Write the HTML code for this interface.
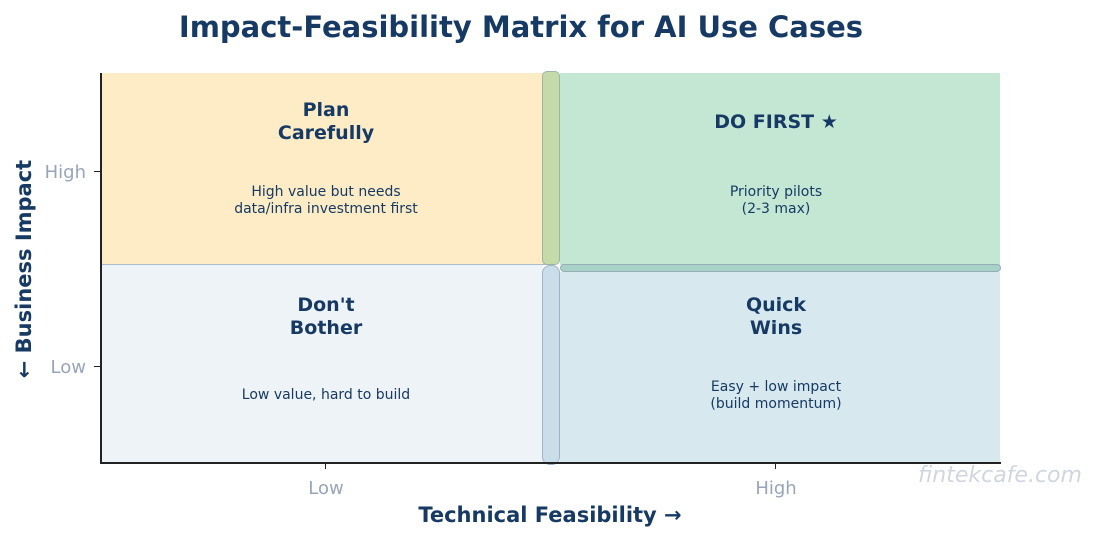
<!DOCTYPE html>
<html><head><style>
body{margin:0;width:1099px;height:540px;background:#fff;position:relative;overflow:hidden;font-family:"DejaVu Sans","Liberation Sans",sans-serif;color:#163a63}
div{position:absolute;box-sizing:border-box}
.t{text-align:center;font-weight:bold;font-size:19px;line-height:23px}
.s{text-align:center;font-size:14px;line-height:17px}
.g{color:#98a4b8;font-size:17px}
</style></head><body>
<div style="left:0;width:1042px;top:10px;text-align:center;font-size:29px;font-weight:bold">Impact-Feasibility Matrix for AI Use Cases</div>
<div style="left:101px;top:73px;width:450px;height:192px;background:#fdecc6;border-bottom:1px solid #a9bccd"></div>
<div style="left:560px;top:73px;width:440px;height:192px;background:#c4e7d4"></div>
<div style="left:560px;top:264px;width:441px;height:8px;background:#a8d2c7;border:1px solid #93aeb5;border-radius:4px"></div>
<div style="left:101px;top:265px;width:442px;height:198px;background:#eef3f8"></div>
<div style="left:560px;top:272px;width:440px;height:191px;background:#d7e8ef"></div>
<div style="left:542px;top:71px;width:18px;height:194px;background:#c4dba9;border:1px solid #9cb4a8;border-radius:5px"></div>
<div style="left:542px;top:265px;width:18px;height:200px;background:#c9dee8;border:1px solid #9fb3c8;border-radius:8px"></div>
<div style="left:100px;top:73px;width:2px;height:391px;background:#222"></div>
<div style="left:100px;top:462px;width:901px;height:2px;background:#222"></div>
<div style="left:94px;top:171px;width:6px;height:1px;background:#222"></div>
<div style="left:94px;top:366px;width:6px;height:1px;background:#222"></div>
<div style="left:325px;top:463px;width:1px;height:6px;background:#222"></div>
<div style="left:775px;top:463px;width:1px;height:6px;background:#222"></div>
<div class="g" style="left:26px;top:162px;width:60px;text-align:right;font-size:18px">High</div>
<div class="g" style="left:26px;top:357px;width:60px;text-align:right;font-size:18px">Low</div>
<div class="g" style="left:276px;top:478px;width:100px;text-align:center;font-size:18px">Low</div>
<div class="g" style="left:726px;top:478px;width:100px;text-align:center;font-size:18px">High</div>
<div style="left:350px;top:503px;width:400px;text-align:center;font-size:21px;font-weight:bold">Technical Feasibility →</div>
<div style="left:-86px;top:257px;width:220px;text-align:center;font-size:21px;font-weight:bold;transform:rotate(-90deg)">← Business Impact</div>
<div class="t" style="left:176px;top:99px;width:300px">Plan<br>Carefully</div>
<div class="s" style="left:176px;top:184px;width:300px">High value but needs<br>data/infra investment first</div>
<div class="t" style="left:626px;top:111px;width:300px">DO FIRST ★</div>
<div class="s" style="left:626px;top:184px;width:300px">Priority pilots<br>(2-3 max)</div>
<div class="t" style="left:176px;top:294px;width:300px">Don't<br>Bother</div>
<div class="s" style="left:176px;top:387px;width:300px">Low value, hard to build</div>
<div class="t" style="left:626px;top:294px;width:300px">Quick<br>Wins</div>
<div class="s" style="left:626px;top:379px;width:300px">Easy + low impact<br>(build momentum)</div>
<div style="left:900px;top:463px;width:200px;text-align:center;font-size:22px;font-style:italic;color:#d0d6de">fintekcafe.com</div>
</body></html>
